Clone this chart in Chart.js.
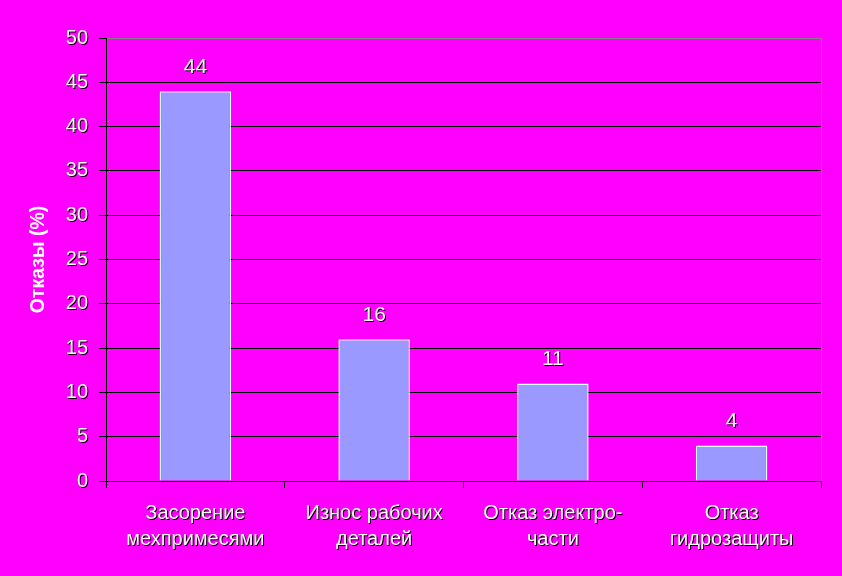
<!DOCTYPE html>
<html>
<head>
<meta charset="utf-8">
<script src="https://cdn.jsdelivr.net/npm/chart.js@4.4.1/dist/chart.umd.min.js"></script>
<style>
  html, body { margin: 0; padding: 0; background: #FF00FF; }
  #wrap { width: 842px; height: 576px; }
</style>
</head>
<body>
<div id="wrap"><canvas id="chart"></canvas></div>
<script>
// ===== данные =====
const categories = [
  ['Засорение', 'мехпримесями'],
  ['Износ рабочих', 'деталей'],
  ['Отказ электро-', 'части'],
  ['Отказ', 'гидрозащиты']
];
const failures = [44, 16, 11, 4];
const yTitle = 'Отказы (%)';
const yMin = 0, yMax = 50, yStep = 5;

const FONT = 'Liberation Sans, Arial, sans-serif';

// белый текст с чёрной тенью для подписей осей
const shadowLabels = {
  id: 'shadowLabels',
  beforeDraw(chart) {
    Object.values(chart.scales).forEach(scale => {
      if (scale._wrapped) return;
      const orig = scale.drawLabels;
      scale.drawLabels = function (area) {
        const c = this.ctx;
        c.save();
        c.shadowColor = '#000';
        c.shadowOffsetX = 1;
        c.shadowOffsetY = 1;
        c.shadowBlur = 0;
        orig.call(this, area);
        c.restore();
      };
      scale._wrapped = true;
    });
  }
};

// значения над столбцами + серая рамка справа
const barValues = {
  id: 'barValues',
  afterDatasetsDraw(chart) {
    const c = chart.ctx;
    const area = chart.chartArea;
    c.save();
    c.strokeStyle = '#808080';
    c.lineWidth = 1;
    c.beginPath();
    c.moveTo(Math.round(area.right) + 0.5, area.top);
    c.lineTo(Math.round(area.right) + 0.5, area.bottom);
    c.stroke();

    c.font = '21px ' + FONT;
    c.textAlign = 'center';
    c.textBaseline = 'middle';
    c.fillStyle = '#fff';
    c.shadowColor = '#000';
    c.shadowOffsetX = 1;
    c.shadowOffsetY = 1;
    chart.getDatasetMeta(0).data.forEach((bar, i) => {
      c.fillText(String(failures[i]), bar.x, bar.y - 24);
    });
    c.restore();
  }
};

const ctx = document.getElementById('chart').getContext('2d');
new Chart(ctx, {
  type: 'bar',
  data: {
    labels: categories,
    datasets: [{
      data: failures,
      backgroundColor: '#9999FF',
      borderColor: '#DDFFFF',
      borderWidth: 1.5,
      borderSkipped: 'bottom',
      barPercentage: 0.4,
      categoryPercentage: 1
    }]
  },
  options: {
    responsive: true,
    maintainAspectRatio: false,
    animation: false,
    layout: { padding: { top: 38, right: 21, left: 0, bottom: 0 } },
    plugins: {
      legend: { display: false },
      tooltip: { enabled: false }
    },
    scales: {
      x: {
        afterFit(scale) { scale.height = 95; },
        grid: {
          drawOnChartArea: false,
          drawTicks: true,
          tickLength: 7,
          color: '#000'
        },
        border: { color: '#000', width: 1 },
        ticks: {
          color: '#fff',
          padding: 12,
          maxRotation: 0,
          autoSkip: false,
          font: { family: FONT, size: 20, lineHeight: 1.3 }
        }
      },
      y: {
        min: yMin,
        max: yMax,
        afterFit(scale) { scale.width = 106; },
        grid: {
          color: ctx => ctx.tick && ctx.tick.value === yMax ? '#808080' : '#000',
          tickColor: '#000',
          tickLength: 7,
          lineWidth: 1
        },
        border: { color: '#000', width: 1 },
        ticks: {
          stepSize: yStep,
          color: '#fff',
          padding: 11,
          font: { family: FONT, size: 20 }
        },
        title: {
          display: true,
          text: yTitle,
          color: '#fff',
          padding: { top: 27, bottom: 0 },
          font: { family: FONT, size: 19.5, weight: 'bold' }
        }
      }
    }
  },
  plugins: [shadowLabels, barValues]
});
</script>
</body>
</html>
